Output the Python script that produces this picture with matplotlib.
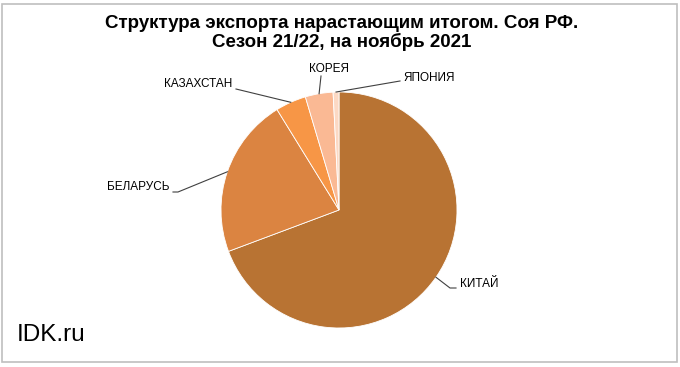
import numpy as np
import matplotlib.pyplot as plt
from matplotlib.patches import Rectangle

# Данные: структура экспорта сои РФ, сезон 21/22 (доли, %)
countries = ["КИТАЙ", "БЕЛАРУСЬ", "КАЗАХСТАН", "КОРЕЯ", "ЯПОНИЯ"]
shares = [69.3, 21.9, 4.2, 3.8, 0.8]
colors = ["#B87333", "#DB8441", "#F79646", "#FAB994", "#FCD9C4"]

title = "Структура экспорта нарастающим итогом. Соя РФ.\nСезон 21/22, на ноябрь 2021"

plt.rcParams['font.family'] = ['Liberation Sans', 'DejaVu Sans']

W, H = 680, 367
fig = plt.figure(figsize=(W / 100, H / 100), dpi=100)
ax = fig.add_axes([0, 0, 1, 1])

cx, cy, r = 339, H - 210, 118
wedges, _ = ax.pie(shares, colors=colors, startangle=90, counterclock=False,
                   center=(cx, cy), radius=r,
                   wedgeprops=dict(edgecolor="white", linewidth=0.6))
ax.set_xlim(0, W)
ax.set_ylim(0, H)
ax.set_aspect("equal")
ax.axis("off")

# рамка диаграммы
ax.add_patch(Rectangle((2, 5), W - 5, H - 9, fill=False,
                       edgecolor="#BFBFBF", linewidth=1.2))

# подписи с выносками: (точка излома, конец линии, позиция текста, выравнивание)
label_layout = {
    "КИТАЙ":     ((450, 288), (456, 288), (460, 284), "left"),
    "БЕЛАРУСЬ":  ((178, 192), (173, 192), (170, 187), "right"),
    "КАЗАХСТАН": ((236, 89),  (236, 89),  (232, 84),  "right"),
    "КОРЕЯ":     ((321, 76),  (321, 76),  (329, 69),  "center"),
    "ЯПОНИЯ":    ((400, 81),  (400, 81),  (403, 78),  "left"),
}

for w, name in zip(wedges, countries):
    mid = np.deg2rad((w.theta1 + w.theta2) / 2)
    ex, ey = cx + r * np.cos(mid), cy + r * np.sin(mid)
    (bx, by), (tx2, ty2), (lx, ly), ha = label_layout[name]
    ax.plot([ex, bx, tx2], [ey, H - by, H - ty2], color="#404040", lw=0.8)
    ax.text(lx, H - ly, name, ha=ha, va="center", fontsize=8.5, color="black")

ax.text(W / 2 + 2, H - 33, title, ha="center", va="center", fontsize=13.5,
        fontweight="bold", linespacing=1.1)
ax.text(17, H - 335, "IDK.ru", ha="left", va="center", fontsize=17.5)

fig.savefig("out.png", dpi=100)
